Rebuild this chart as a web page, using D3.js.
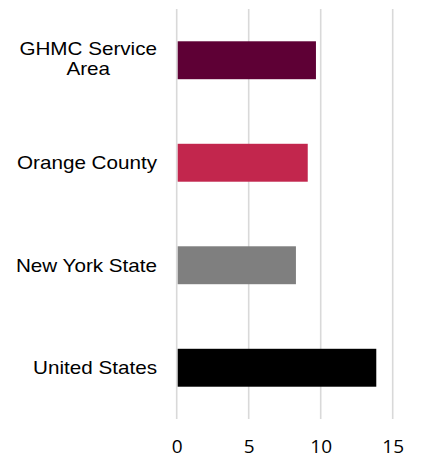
<!DOCTYPE html>
<html>
<head>
<meta charset="utf-8">
<script src="https://cdn.jsdelivr.net/npm/d3@7"></script>
<style>
html,body{margin:0;padding:0;background:#fff;}
svg{display:block;}
</style>
</head>
<body>
<svg id="chart" width="431" height="458"></svg>
<script>
const categories = [["GHMC Service", "Area"], ["Orange County"], ["New York State"], ["United States"]];
const values = [9.67, 9.1, 8.28, 13.86];
const colors = ["#5E0035", "#C2264D", "#7F7F7F", "#000000"];
const xTicks = [0, 5, 10, 15];

const svg = d3.select("#chart");
const x = d3.scaleLinear().domain([0, 15]).range([176.7, 392.7]);
const y = d3.scaleBand().domain(d3.range(categories.length)).range([9, 419])
  .paddingInner(0.63).paddingOuter(0.315);

// gridlines
svg.append("g").selectAll("line").data(xTicks).join("line")
  .attr("x1", d => x(d)).attr("x2", d => x(d))
  .attr("y1", 9).attr("y2", 419)
  .attr("stroke", "#D9D9D9").attr("stroke-width", 1.6);

// bars
svg.append("g").selectAll("rect").data(values).join("rect")
  .attr("x", x(0) + 1)
  .attr("y", (d, i) => y(i))
  .attr("width", d => x(d) - x(0) - 1)
  .attr("height", y.bandwidth())
  .attr("fill", (d, i) => colors[i]);

// x tick labels
const xAxis = d3.axisBottom(x).tickValues(xTicks).tickSize(0).tickPadding(0);
const gx = svg.append("g").attr("transform", "translate(0,438)").call(xAxis);
gx.select(".domain").remove();
gx.selectAll("text")
  .attr("dy", null).attr("y", 15)
  .attr("font-family", "'Open Sans', sans-serif")
  .attr("font-size", 19).attr("fill", "#000");

// category labels
const rightEdge = 157;
const fs = 17.5, sx = 1.18, lh = 19.5;
categories.forEach((lines, i) => {
  const n = lines.length;
  const cy = y(i) + y.bandwidth() / 2 + (n > 1 ? -1.5 : 0);
  const g = svg.append("g").attr("transform", `translate(${rightEdge},${cy}) scale(${sx},1)`);
  const t = g.append("text")
    .attr("font-family", "'Liberation Sans', Arial, sans-serif")
    .attr("font-size", fs).attr("fill", "#000");
  lines.forEach((ln, j) => {
    t.append("tspan").attr("x", 0)
      .attr("y", (j - (n - 1) / 2) * lh + fs * 0.36)
      .text(ln);
  });
  const spans = t.selectAll("tspan").nodes();
  const maxW = d3.max(spans, s => s.getComputedTextLength());
  t.attr("text-anchor", "middle");
  t.selectAll("tspan").attr("x", -maxW / 2);
});
</script>
</body>
</html>
